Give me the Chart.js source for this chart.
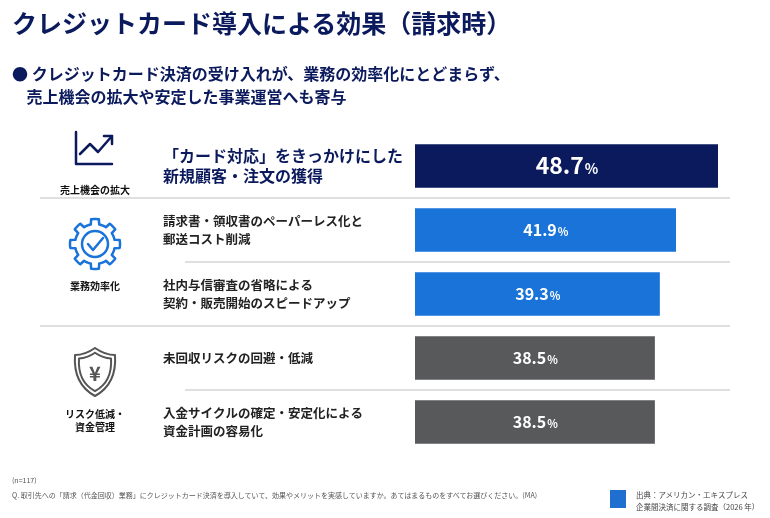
<!DOCTYPE html>
<html><head><meta charset="utf-8">
<script src="https://cdn.jsdelivr.net/npm/chart.js@4"></script>
<style>
body{margin:0;width:770px;height:518px;background:#fff;font-family:"Noto Sans CJK JP",sans-serif;position:relative;overflow:hidden}
#c{position:absolute;left:0;top:0}
.t{position:absolute;left:12px;top:4px;font-size:25px;font-weight:bold;color:#0b1a5c}
.s{position:absolute;left:12px;top:62px;font-size:16px;font-weight:bold;color:#0b1a5c;line-height:23px}
.n{position:absolute;left:12px;top:475px;font-size:7px;color:#555}
.q{position:absolute;left:12px;top:490px;font-size:7px;color:#555}
.src{position:absolute;left:636px;top:489px;font-size:7.5px;color:#444;line-height:12px}
.logo{position:absolute;left:610px;top:490px;width:16px;height:18px;background:#1f6fd1}
</style></head><body>
<canvas id="c" width="770" height="518"></canvas>
<div class="t">クレジットカード導入による効果（請求時）</div>
<div class="s">● クレジットカード決済の受け入れが、業務の効率化にとどまらず、<br>&nbsp;&nbsp;&nbsp;&nbsp;売上機会の拡大や安定した事業運営へも寄与</div>
<div class="n">(n=117)</div>
<div class="q">Q. 取引先への「請求（代金回収）業務」にクレジットカード決済を導入していて、効果やメリットを実感していますか。あてはまるものをすべてお選びください。(MA)</div>
<div class="logo"></div>
<div class="src">出典：アメリカン・エキスプレス<br>企業間決済に関する調査（2026 年）</div>
<script>
const categories = [
  ["「カード対応」をきっかけにした", "新規顧客・注文の獲得"],
  ["請求書・領収書のペーパーレス化と", "郵送コスト削減"],
  ["社内与信審査の省略による", "契約・販売開始のスピードアップ"],
  ["未回収リスクの回避・低減"],
  ["入金サイクルの確定・安定化による", "資金計画の容易化"]
];
const values = [48.7, 41.9, 39.3, 38.5, 38.5];
const barColors = ["#0b1a5c", "#1a73d9", "#1a73d9", "#58595b", "#58595b"];
const groups = [
  { name: ["売上機会の拡大"], rows: [0] },
  { name: ["業務効率化"], rows: [1, 2] },
  { name: ["リスク低減・", "資金管理"], rows: [3, 4] }
];

const deco = {
  id: "deco",
  afterDatasetsDraw(chart) {
    const { ctx } = chart;
    const y = chart.scales.y;
    const meta = chart.getDatasetMeta(0);
    ctx.save();
    // separators
    for (let i = 0; i < values.length - 1; i++) {
      const yy = (y.getPixelForValue(i) + y.getPixelForValue(i + 1)) / 2;
      const full = i === 0 || i === 2;
      ctx.strokeStyle = "#d5d5d5"; ctx.lineWidth = 1.5;
      ctx.beginPath(); ctx.moveTo(full ? 40 : 185, yy); ctx.lineTo(730, yy); ctx.stroke();
    }
    // row labels
    categories.forEach((lines, i) => {
      const cy = y.getPixelForValue(i);
      const big = i === 0;
      ctx.fillStyle = big ? "#0b1a5c" : "#222";
      ctx.font = "bold " + (big ? 16 : 12.5) + "px 'Noto Sans CJK JP'";
      ctx.textBaseline = "middle"; ctx.textAlign = "left";
      const lh = big ? 20 : 18;
      lines.forEach((l, k) => ctx.fillText(l, 163, cy + (k - (lines.length - 1) / 2) * lh));
    });
    // value labels
    meta.data.forEach((bar, i) => {
      const cx = (bar.base + bar.x) / 2, cy = bar.y;
      const big = i === 0;
      const num = values[i].toFixed(1);
      ctx.fillStyle = "#fff"; ctx.textBaseline = "alphabetic";
      ctx.font = "bold " + (big ? 23 : 16) + "px 'Noto Sans CJK JP'";
      const w1 = ctx.measureText(num).width;
      ctx.font = "bold " + (big ? 14 : 11) + "px 'Noto Sans CJK JP'";
      const w2 = ctx.measureText("%").width;
      const x0 = cx - (w1 + w2) / 2, by = cy + (big ? 8 : 6);
      ctx.font = "bold " + (big ? 23 : 16) + "px 'Noto Sans CJK JP'";
      ctx.textAlign = "left"; ctx.fillText(num, x0, by);
      ctx.font = "bold " + (big ? 14 : 11) + "px 'Noto Sans CJK JP'";
      ctx.fillText("%", x0 + w1 + 1, by);
    });
    // group icons + names
    groups.forEach((g, gi) => {
      const ys = g.rows.map(r => y.getPixelForValue(r));
      const cy = (Math.min(...ys) + Math.max(...ys)) / 2;
      const ix = 95, iy = cy - 18;
      ctx.lineWidth = 2.5; ctx.lineCap = "round"; ctx.lineJoin = "round";
      if (gi === 0) {
        ctx.strokeStyle = "#0b1a5c";
        const oy = iy + 12;
        ctx.beginPath(); ctx.moveTo(76, oy - 28); ctx.lineTo(76, oy + 4); ctx.lineTo(112, oy + 4); ctx.stroke();
        ctx.beginPath(); ctx.moveTo(80, oy - 6); ctx.lineTo(90, oy - 16); ctx.lineTo(98, oy - 8); ctx.lineTo(112, oy - 24); ctx.stroke();
        ctx.beginPath(); ctx.moveTo(104, oy - 24); ctx.lineTo(112, oy - 24); ctx.lineTo(112, oy - 16); ctx.stroke();
      } else if (gi === 1) {
        ctx.strokeStyle = "#1a73d9";
        ctx.beginPath();
        for (let a = 0; a <= 360; a += 3) {
          const r = 20 + (Math.cos(a * Math.PI / 180 * 8) > 0.3 ? 5 : 0);
          const px = ix + r * Math.cos(a * Math.PI / 180), py = iy + r * Math.sin(a * Math.PI / 180);
          a === 0 ? ctx.moveTo(px, py) : ctx.lineTo(px, py);
        }
        ctx.stroke();
        ctx.beginPath(); ctx.arc(ix, iy, 13, 0, Math.PI * 2); ctx.stroke();
        ctx.beginPath(); ctx.moveTo(ix - 7, iy); ctx.lineTo(ix - 2, iy + 6); ctx.lineTo(ix + 8, iy - 6); ctx.stroke();
      } else {
        ctx.strokeStyle = "#555";
        const sh = (s) => { ctx.beginPath(); ctx.moveTo(ix, iy - 24 * s); ctx.quadraticCurveTo(ix + 10 * s, iy - 17 * s, ix + 20 * s, iy - 17 * s);
          ctx.quadraticCurveTo(ix + 22 * s, iy + 12 * s, ix, iy + 24 * s); ctx.quadraticCurveTo(ix - 22 * s, iy + 12 * s, ix - 20 * s, iy - 17 * s);
          ctx.quadraticCurveTo(ix - 10 * s, iy - 17 * s, ix, iy - 24 * s); ctx.stroke(); };
        ctx.lineWidth = 2; sh(1); sh(0.8);
        ctx.fillStyle = "#555"; ctx.font = "bold 20px 'Noto Sans CJK JP'"; ctx.textAlign = "center"; ctx.textBaseline = "middle";
        ctx.fillText("¥", ix, iy + 1);
      }
      ctx.fillStyle = "#111"; ctx.font = "bold 10px 'Noto Sans CJK JP'"; ctx.textAlign = "center"; ctx.textBaseline = "middle";
      g.name.forEach((l, k) => ctx.fillText(l, ix, cy + 24 + k * 13));
    });
    ctx.restore();
  }
};

new Chart(document.getElementById("c"), {
  type: "bar",
  data: { labels: categories, datasets: [{ data: values, backgroundColor: barColors, barThickness: 43 }] },
  options: {
    indexAxis: "y", responsive: false, animation: false,
    layout: { padding: { left: 415, right: 52, top: 134, bottom: 64 } },
    plugins: { legend: { display: false }, tooltip: { enabled: false } },
    scales: {
      x: { display: false, min: 0, max: 48.7 },
      y: { display: false }
    }
  },
  plugins: [deco]
});
</script>
</body></html>
